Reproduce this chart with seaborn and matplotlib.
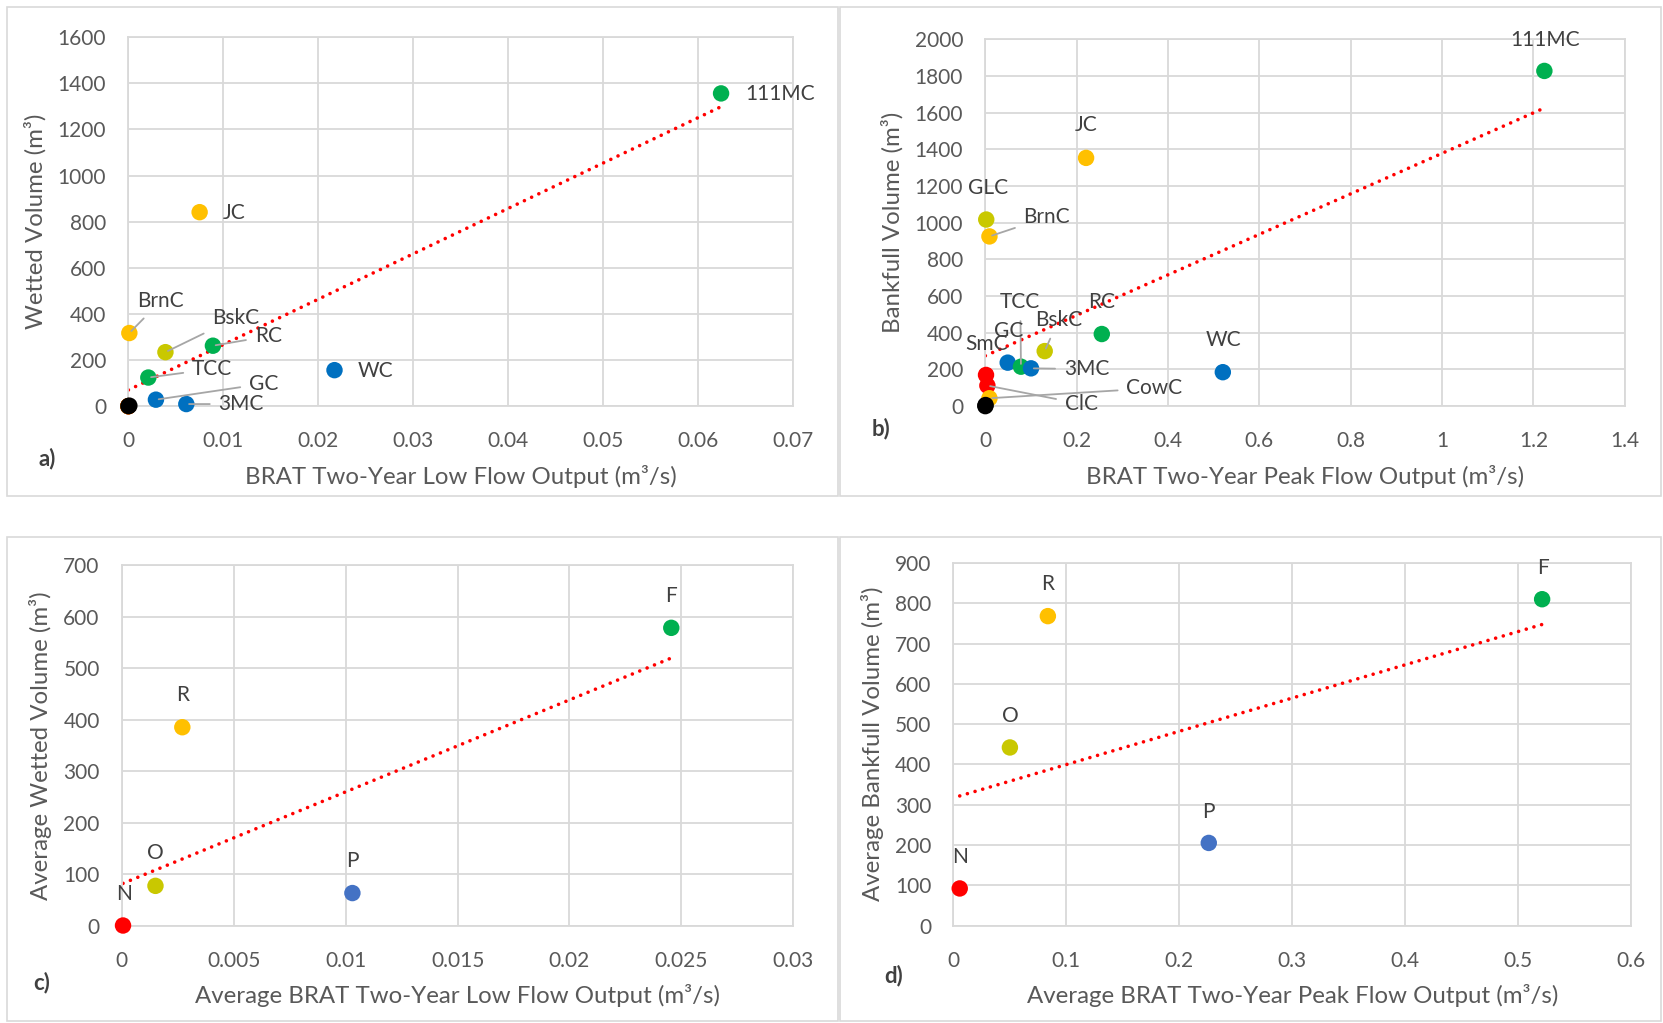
import matplotlib
matplotlib.use("Agg")
import matplotlib.pyplot as plt
from matplotlib.patches import Rectangle
import seaborn as sns
import pandas as pd

sns.set_style("white")
plt.rcParams['font.family'] = ['Lato', 'DejaVu Sans']

# colours used by the original spreadsheet
ORANGE = "#FFC000"
OLIVE = "#C9C800"
GREEN = "#00B050"
BLUE = "#0070C0"
BLUE2 = "#4472C4"
RED = "#FF0000"
BLACK = "#000000"

# ---- panel a: wetted volume vs low flow (sites with zero sit under the black dots)
a_names = ["111MC", "JC", "BrnC", "BskC", "RC", "TCC", "GC", "3MC", "WC",
           "GLC", "SmC", "ClC", "CowC", "blk1", "blk2"]
a_x = [0.0624, 0.0075, 0.0001, 0.0039, 0.0089, 0.0021, 0.0029, 0.0061, 0.0217,
       0.0, 0.0, 0.0, 0.0, 0.0001, 0.0]
a_y = [1356, 841, 317, 234, 262, 124, 28, 9, 156, 0, 0, 0, 0, 2, 0]
a_col = [GREEN, ORANGE, ORANGE, OLIVE, GREEN, GREEN, BLUE, BLUE, BLUE,
         OLIVE, RED, RED, ORANGE, BLACK, BLACK]

# ---- panel b: bankfull volume vs peak flow
b_names = ["111MC", "JC", "GLC", "BrnC", "RC", "BskC", "WC", "GC", "TCC", "3MC",
           "SmC", "ClC", "CowC", "blk1", "blk2"]
b_x = [1.224, 0.2206, 0.002, 0.009, 0.255, 0.130, 0.520, 0.049, 0.078, 0.100,
       0.0015, 0.0045, 0.009, 0.0005, 0.0]
b_y = [1827, 1353, 1017, 925, 393, 300, 185, 237, 215, 206, 170, 112, 43, 6, 0]
b_col = [GREEN, ORANGE, OLIVE, ORANGE, GREEN, OLIVE, BLUE, BLUE, GREEN, BLUE,
         RED, RED, ORANGE, BLACK, BLACK]

# ---- panel c: average wetted volume vs low flow
c_names = ["N", "O", "P", "R", "F"]
c_x = [0.00005, 0.0015, 0.0103, 0.0027, 0.02455]
c_y = [0, 77, 63, 385, 578]
c_col = [RED, OLIVE, BLUE2, ORANGE, GREEN]

# ---- panel d: average bankfull volume vs peak flow
d_names = ["N", "O", "R", "P", "F"]
d_x = [0.0056, 0.050, 0.0836, 0.226, 0.521]
d_y = [92, 442, 768, 205, 810]
d_col = [RED, OLIVE, ORANGE, BLUE2, GREEN]

# label placement: (name, text x, text y, ha, leader?)
a_labels = [("111MC", 0.065, 1352, "left", False), ("JC", 0.0099, 837, "left", False),
            ("BrnC", 0.0034, 455, "center", True), ("BskC", 0.0088, 382, "left", True),
            ("RC", 0.0133, 303, "left", True), ("TCC", 0.0067, 161, "left", True),
            ("GC", 0.0127, 97, "left", True), ("3MC", 0.0095, 9, "left", True),
            ("WC", 0.0241, 152, "left", False)]
b_labels = [("111MC", 1.226, 1995, "center", False), ("JC", 0.2206, 1532, "center", False),
            ("GLC", 0.005, 1191, "center", False), ("BrnC", 0.0836, 1029, "left", True),
            ("TCC", 0.0766, 566, "center", True), ("RC", 0.2554, 566, "center", False),
            ("BskC", 0.160, 468, "center", True), ("GC", 0.051, 410, "center", False),
            ("SmC", 0.002, 341, "center", False), ("3MC", 0.172, 202, "left", True),
            ("CowC", 0.309, 98, "left", True), ("ClC", 0.174, 12, "left", True),
            ("WC", 0.5224, 358, "center", False)]
c_labels = [("F", 0.02455, 640, "center", False), ("R", 0.0027, 447, "center", False),
            ("O", 0.0015, 140, "center", False), ("P", 0.0103, 126, "center", False),
            ("N", 0.0001, 62, "center", False)]
d_labels = [("F", 0.522, 887, "center", False), ("R", 0.0836, 847, "center", False),
            ("O", 0.050, 521, "center", False), ("P", 0.226, 282, "center", False),
            ("N", 0.0056, 171, "center", False)]

a_xticks = [0, 0.01, 0.02, 0.03, 0.04, 0.05, 0.06, 0.07]
a_xtl = ["0", "0.01", "0.02", "0.03", "0.04", "0.05", "0.06", "0.07"]
b_xticks = [0, 0.2, 0.4, 0.6, 0.8, 1.0, 1.2, 1.4]
b_xtl = ["0", "0.2", "0.4", "0.6", "0.8", "1", "1.2", "1.4"]
c_xticks = [0, 0.005, 0.01, 0.015, 0.02, 0.025, 0.03]
c_xtl = ["0", "0.005", "0.01", "0.015", "0.02", "0.025", "0.03"]
d_xticks = [0, 0.1, 0.2, 0.3, 0.4, 0.5, 0.6]
d_xtl = ["0", "0.1", "0.2", "0.3", "0.4", "0.5", "0.6"]

GRID = "#D9D9D9"
TXT = "#595959"
LBL = "#404040"

fig = plt.figure(figsize=(16.63, 10.23), dpi=100)

# panel frames
for (x0, y0, w, h) in [(0.0045, 0.515, 0.4995, 0.478), (0.505, 0.515, 0.494, 0.478),
                       (0.0045, 0.002, 0.4995, 0.4726), (0.505, 0.002, 0.494, 0.4726)]:
    fig.add_artist(Rectangle((x0, y0), w, h, transform=fig.transFigure,
                             fill=False, edgecolor=GRID, linewidth=1.2))

panels = [
    (a_names, a_x, a_y, a_col, a_labels, a_xticks, a_xtl, 1600, 200,
     "BRAT Two-Year Low Flow Output (m³/s)", "Wetted Volume (m³)", "a)",
     [0.0772, 0.603, 0.3998, 0.3607], (0.023, 0.545)),
    (b_names, b_x, b_y, b_col, b_labels, b_xticks, b_xtl, 2000, 200,
     "BRAT Two-Year Peak Flow Output (m³/s)", "Bankfull Volume (m³)", "b)",
     [0.5925, 0.603, 0.3845, 0.3587], (0.524, 0.574)),
    (c_names, c_x, c_y, c_col, c_labels, c_xticks, c_xtl, 700, 100,
     "Average BRAT Two-Year Low Flow Output (m³/s)", "Average Wetted Volume (m³)", "c)",
     [0.0733, 0.0953, 0.4037, 0.3524], (0.020, 0.033)),
    (d_names, d_x, d_y, d_col, d_labels, d_xticks, d_xtl, 900, 100,
     "Average BRAT Two-Year Peak Flow Output (m³/s)", "Average Bankfull Volume (m³)", "d)",
     [0.5733, 0.0953, 0.4077, 0.3544], (0.532, 0.040)),
]

for (names, xs, ys, cols, labels, xt, xtl, ymax, ystep, xlab, ylab, tag, rect, tagpos) in panels:
    ax = fig.add_axes(rect)
    df = pd.DataFrame({"x": xs, "y": ys, "name": names})
    # Excel style linear trendline over the data range
    sns.regplot(data=df, x="x", y="y", scatter=False, ci=None, truncate=True, ax=ax,
                line_kws=dict(color=RED, lw=2.6, linestyle=(0, (0.01, 2.2)),
                              dash_capstyle="round"))
    sns.scatterplot(data=df, x="x", y="y", hue="name", palette=dict(zip(names, cols)),
                    legend=False, s=140, linewidth=0, ax=ax, zorder=3, clip_on=False)
    pts = dict(zip(names, zip(xs, ys)))
    for name, tx, ty, ha, leader in labels:
        if leader:
            ax.annotate(name, xy=pts[name], xytext=(tx, ty), ha=ha, va="center",
                        fontsize=15, color=LBL,
                        arrowprops=dict(arrowstyle="-", color="#A6A6A6", lw=1.3,
                                        shrinkA=4, shrinkB=2))
        else:
            ax.text(tx, ty, name, ha=ha, va="center", fontsize=15, color=LBL)
    ax.set_xlim(xt[0], xt[-1])
    ax.set_ylim(0, ymax)
    ax.set_xticks(xt)
    ax.set_xticklabels(xtl)
    ax.set_yticks(range(0, ymax + 1, ystep))
    ax.tick_params(axis="x", length=0, labelsize=15, labelcolor=TXT, pad=18)
    ax.tick_params(axis="y", length=0, labelsize=15, labelcolor=TXT, pad=16)
    ax.grid(True, color=GRID, lw=1.3)
    for sp in ax.spines.values():
        sp.set_color(GRID)
        sp.set_linewidth(1.3)
    ax.set_xlabel(xlab, fontsize=17.3, color=TXT, labelpad=10)
    ax.set_ylabel(ylab, fontsize=17.3, color=TXT, labelpad=8)
    fig.text(tagpos[0], tagpos[1], tag, fontsize=16, fontweight="bold", color=LBL)

fig.savefig("out.png", dpi=100)
